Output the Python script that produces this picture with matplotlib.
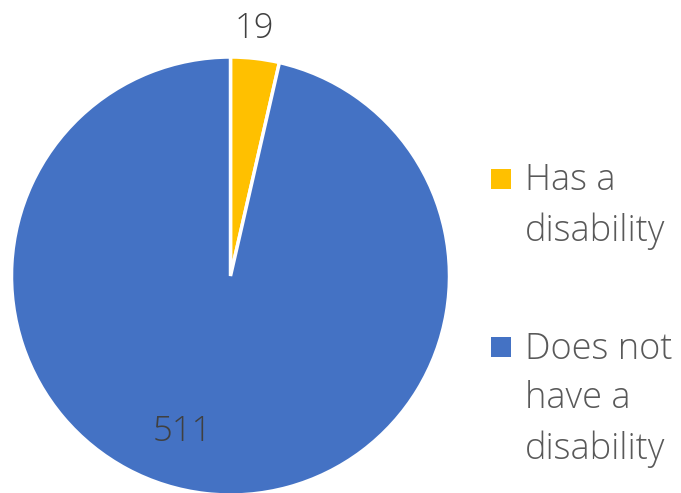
import matplotlib.pyplot as plt
from matplotlib.patches import Rectangle

labels = ["Has a\ndisability", "Does not\nhave a\ndisability"]
counts = [19, 511]
colors = ["#FFC000", "#4472C4"]

plt.rcParams['font.family'] = ['Open Sans', 'DejaVu Sans']
text_color = "#595959"

fig = plt.figure(figsize=(6.81, 4.93), dpi=100)
W, H = 681, 493
# pie box in pixels: x 11..450, y 57..495
ax = fig.add_axes([11 / W, (H - 495) / H, 439 / W, 438 / H])
wedges, _ = ax.pie(counts, colors=colors, startangle=90, counterclock=False,
                   wedgeprops=dict(edgecolor="white", linewidth=2.5))
ax.set_aspect("equal")
ax.set_xlim(-1, 1)
ax.set_ylim(-1, 1)
for w in wedges:
    w.set_clip_on(False)

ax.text(0.11, 1.13, str(counts[0]), ha="center", va="center",
        fontsize=25, color="#404040", fontweight="light")
ax.text(-0.22, -0.71, str(counts[1]), ha="center", va="center",
        fontsize=25, color="#404040", fontweight="light")

# legend drawn by hand: square aligned with the first line of each label
baselines = [191, 359]
pitch = 50
for lab, c, yb in zip(labels, colors, baselines):
    n = lab.count("\n")
    fig.patches.append(Rectangle((491 / W, 1 - (yb - 2) / H), 20 / W, 20 / H,
                                 transform=fig.transFigure, facecolor=c,
                                 edgecolor="none"))
    fig.text(525 / W, 1 - (yb + n * pitch) / H, lab, ha="left", va="baseline",
             fontsize=26, color=text_color, linespacing=1.46,
             fontweight="light")

fig.savefig("out.png", dpi=100)
